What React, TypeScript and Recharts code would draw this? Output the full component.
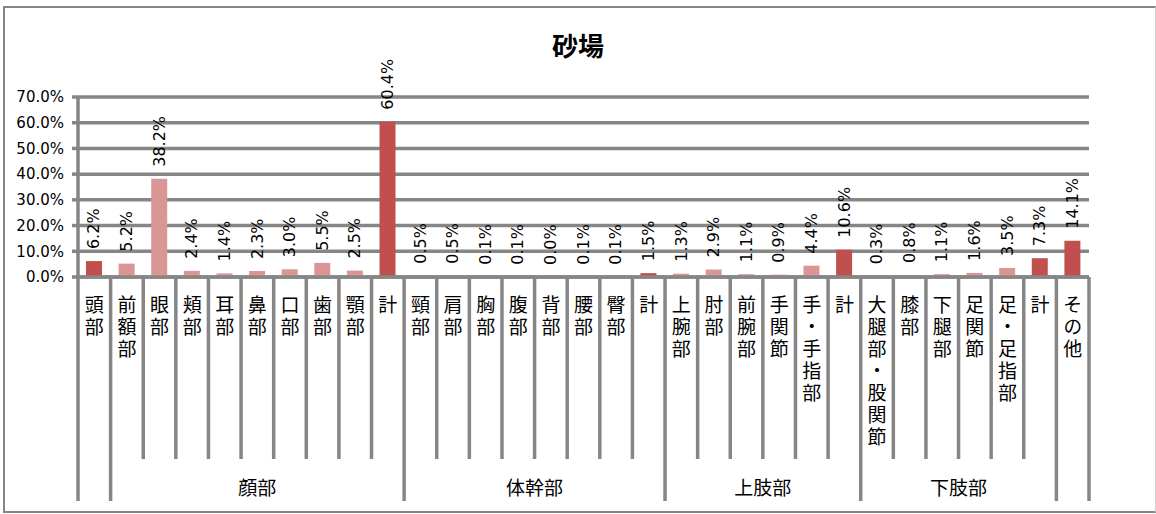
import React from 'react';
import { BarChart, Bar, XAxis, YAxis, CartesianGrid, Cell, LabelList } from 'recharts';

const categories: string[] = [
  '頭部', '前額部', '眼部', '頬部', '耳部', '鼻部', '口部', '歯部', '顎部', '計',
  '頸部', '肩部', '胸部', '腹部', '背部', '腰部', '臀部', '計',
  '上腕部', '肘部', '前腕部', '手関節', '手・手指部', '計',
  '大腿部・股関節', '膝部', '下腿部', '足関節', '足・足指部', '計',
  'その他',
];
const values: number[] = [
  6.2, 5.2, 38.2, 2.4, 1.4, 2.3, 3.0, 5.5, 2.5, 60.4,
  0.5, 0.5, 0.1, 0.1, 0.0, 0.1, 0.1, 1.5,
  1.3, 2.9, 1.1, 0.9, 4.4, 10.6,
  0.3, 0.8, 1.1, 1.6, 3.5, 7.3,
  14.1,
];
const highlighted: boolean[] = [
  true, false, false, false, false, false, false, false, false, true,
  false, false, false, false, false, false, false, true,
  false, false, false, false, false, true,
  false, false, false, false, false, true,
  true,
];
const groups = [
  { label: '', start: 0, end: 0 },
  { label: '顔部', start: 1, end: 9 },
  { label: '体幹部', start: 10, end: 17 },
  { label: '上肢部', start: 18, end: 23 },
  { label: '下肢部', start: 24, end: 29 },
  { label: '', start: 30, end: 30 },
];
const yTicks: number[] = [0, 10, 20, 30, 40, 50, 60, 70];
const title = '砂場';

const data = categories.map((c, i) => ({ id: String(i), name: c, value: values[i], hl: highlighted[i] }));

const W = 1156;
const H = 514;
const MARGIN = { top: 97, right: 67, bottom: 7, left: 0 };
const Y_AXIS_W = 78;
const X_AXIS_H = 230;
const PLOT_LEFT = MARGIN.left + Y_AXIS_W;
const PLOT_RIGHT = W - MARGIN.right;
const BW = (PLOT_RIGHT - PLOT_LEFT) / categories.length;

const GRID = '#868686';
const DARK = '#C0504D';
const LIGHT = '#D99694';
const CJK = '"Noto Sans CJK JP", "Noto Sans", sans-serif';
const NUM = '"DejaVu Sans", sans-serif';
const LW = 3.5;

const groupStarts = new Set(groups.map((g) => g.start));

const CategoryTick = (props: any) => {
  const { x, y, payload } = props;
  const idx = Number(payload.value);
  const label = categories[idx];
  const left = x - BW / 2;
  const isLong = groupStarts.has(idx);
  const group = groups.find((g) => g.start === idx);
  const isLast = idx === categories.length - 1;
  return (
    <g>
      <line x1={left} x2={left} y1={y} y2={y + (isLong ? 224 : 182)} stroke={GRID} strokeWidth={LW} />
      {isLast && (
        <line x1={x + BW / 2} x2={x + BW / 2} y1={y} y2={y + 224} stroke={GRID} strokeWidth={LW} />
      )}
      <text
        x={x}
        y={y + 18}
        textAnchor="start"
        fontFamily={CJK}
        fontSize={19}
        letterSpacing={3}
        fill="#000"
        style={{ writingMode: 'vertical-rl' } as any}
      >
        {label}
      </text>
      {group && group.label && (
        <text
          x={left + ((group.end - group.start + 1) * BW) / 2}
          y={y + 218}
          textAnchor="middle"
          fontFamily={CJK}
          fontSize={19}
          fill="#000"
        >
          {group.label}
        </text>
      )}
    </g>
  );
};

const ValueLabel = (props: any) => {
  const { x, y, width, value } = props;
  const cx = Number(x) + Number(width) / 2;
  const ty = Number(y) - 12;
  return (
    <text
      x={cx}
      y={ty}
      transform={`rotate(-90, ${cx}, ${ty})`}
      textAnchor="start"
      dominantBaseline="central"
      fontFamily={NUM}
      fontSize={16}
      fill="#000"
    >
      {`${Number(value).toFixed(1)}%`}
    </text>
  );
};

export default function App() {
  return (
    <div style={{ position: 'absolute', left: 0, top: 0, width: W, height: H, background: '#fff', overflow: 'hidden' }}>
      <div
        style={{
          position: 'absolute',
          left: 3,
          top: 6,
          width: W - 3,
          height: 507,
          boxSizing: 'border-box',
          borderTop: `2px solid ${GRID}`,
          borderLeft: `2px solid ${GRID}`,
          borderBottom: `2px solid ${GRID}`,
          borderRight: '1px solid #d0d0d0',
        }}
      />
      <div
        style={{
          position: 'absolute',
          left: 0,
          top: 27,
          width: W,
          textAlign: 'center',
          fontFamily: CJK,
          fontWeight: 700,
          fontSize: 26,
          lineHeight: '36px',
          color: '#000',
        }}
      >
        {title}
      </div>
      <div style={{ position: 'absolute', left: 0, top: 0 }}>
        <BarChart width={W} height={H} data={data} margin={MARGIN} barCategoryGap={0}>
          <CartesianGrid
            vertical={false}
            stroke={GRID}
            strokeWidth={LW}
            horizontal={{ stroke: GRID, strokeWidth: LW } as any}
          />
          <XAxis
            dataKey="id"
            height={X_AXIS_H}
            interval={0}
            tickSize={0}
            tickMargin={0}
            tickLine={false}
            axisLine={{ stroke: GRID, strokeWidth: LW }}
            tick={<CategoryTick />}
          />
          <YAxis
            width={Y_AXIS_W}
            domain={[0, 70]}
            ticks={yTicks}
            interval={0}
            tickSize={6}
            tickMargin={8}
            tickLine={{ stroke: GRID, strokeWidth: LW }}
            axisLine={{ stroke: GRID, strokeWidth: LW }}
            tickFormatter={(v: number) => `${v.toFixed(1)}%`}
            tick={{ fontFamily: NUM, fontSize: 15, fill: '#000' }}
          />
          <Bar dataKey="value" barSize={16} minPointSize={0.1} isAnimationActive={false}>
            {data.map((d, i) => (
              <Cell key={i} fill={d.hl ? DARK : LIGHT} />
            ))}
            <LabelList dataKey="value" content={<ValueLabel />} />
          </Bar>
        </BarChart>
      </div>
    </div>
  );
}
